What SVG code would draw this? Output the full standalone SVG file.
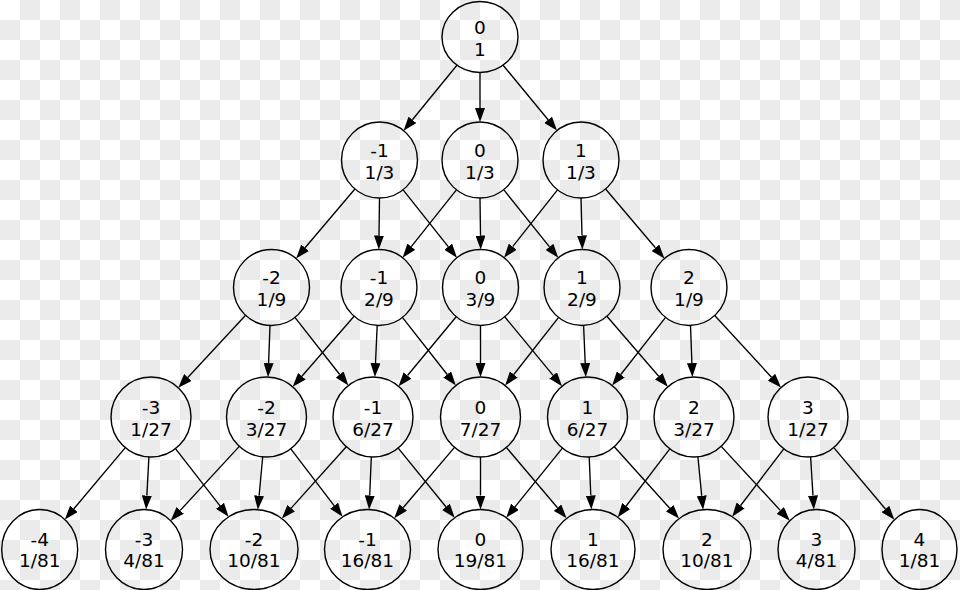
<svg xmlns="http://www.w3.org/2000/svg" width="960" height="590" viewBox="0 0 960 590">
<defs>
<pattern id="checker" patternUnits="userSpaceOnUse" width="40" height="40">
<rect width="40" height="40" fill="#ffffff"/>
<rect x="20" y="0" width="20" height="20" fill="#ebebeb"/>
<rect x="0" y="20" width="20" height="20" fill="#ebebeb"/>
</pattern>
<marker id="arr" markerUnits="userSpaceOnUse" markerWidth="14" markerHeight="10" viewBox="0 0 14 10" refX="0" refY="5" orient="auto">
<path d="M0,0 L14,5 L0,10 z" fill="#000"/>
</marker>
</defs>
<style>
.node ellipse{fill:none;stroke:#000;stroke-width:1.4}
.node text{font-family:"DejaVu Sans","Liberation Sans",sans-serif;font-size:18.5px;text-anchor:middle;fill:#000}
#edges line{stroke:#000;stroke-width:1.35;marker-end:url(#arr)}
</style>
<rect width="960" height="590" fill="url(#checker)"/>
<g id="edges">
<line x1="456.9" y1="65.2" x2="412.4" y2="119.8"/>
<line x1="480" y1="72.5" x2="480" y2="108"/>
<line x1="503.1" y1="65.2" x2="548.1" y2="119.8"/>

<line x1="354.9" y1="189.0" x2="305.1" y2="247.8"/>
<line x1="379.5" y1="198" x2="379" y2="235.5"/>
<line x1="403.1" y1="189.8" x2="448.2" y2="246.7"/>
<line x1="456.4" y1="189.8" x2="411.3" y2="246.7"/>
<line x1="480" y1="198" x2="480.5" y2="235.5"/>
<line x1="503.7" y1="189.7" x2="549.5" y2="246.9"/>
<line x1="557.5" y1="189.8" x2="512.7" y2="246.7"/>
<line x1="581" y1="198" x2="582" y2="235.5"/>
<line x1="605.6" y1="189.0" x2="655.4" y2="247.8"/>

<line x1="245.6" y1="315.3" x2="187.8" y2="377.5"/>
<line x1="270.0" y1="325.5" x2="268.6" y2="363.1"/>
<line x1="294.9" y1="317.4" x2="339.7" y2="374.5"/>
<line x1="354.1" y1="316.2" x2="301.9" y2="376.2"/>
<line x1="377.2" y1="325.5" x2="375.5" y2="363.1"/>
<line x1="402.4" y1="317.4" x2="447.2" y2="374.5"/>
<line x1="456.2" y1="316.7" x2="407.5" y2="375.5"/>
<line x1="480.5" y1="325.5" x2="480.5" y2="363"/>
<line x1="504.7" y1="316.8" x2="553.1" y2="375.4"/>
<line x1="558.6" y1="317.4" x2="513.8" y2="374.5"/>
<line x1="583.6" y1="325.5" x2="585.2" y2="363.1"/>
<line x1="606.9" y1="316.2" x2="658.7" y2="376.2"/>
<line x1="665.6" y1="317.4" x2="620.8" y2="374.5"/>
<line x1="690.5" y1="325.5" x2="691.9" y2="363.1"/>
<line x1="714.7" y1="315.5" x2="771.5" y2="377.2"/>

<line x1="125.3" y1="447.6" x2="73.9" y2="508.8"/>
<line x1="148.9" y1="456.9" x2="146.85" y2="495.6"/>
<line x1="175.5" y1="448.6" x2="220.0" y2="505.8"/>
<line x1="239.3" y1="446.4" x2="180.2" y2="510.4"/>
<line x1="262.7" y1="456.8" x2="259.1" y2="495.7"/>
<line x1="290.8" y1="448.8" x2="334.1" y2="505.7"/>
<line x1="346.3" y1="446.8" x2="291.2" y2="508.1"/>
<line x1="371.3" y1="457.0" x2="369.7" y2="495.5"/>
<line x1="398.2" y1="448.1" x2="445.9" y2="506.8"/>
<line x1="454.5" y1="447.4" x2="403.3" y2="507.5"/>
<line x1="480.5" y1="457" x2="480.5" y2="495.5"/>
<line x1="506.4" y1="447.5" x2="557.5" y2="507.7"/>
<line x1="562.4" y1="448.1" x2="515.0" y2="506.8"/>
<line x1="589.2" y1="457.0" x2="590.8" y2="495.5"/>
<line x1="614.3" y1="446.7" x2="669.7" y2="508.2"/>
<line x1="669.8" y1="448.8" x2="626.2" y2="506.0"/>
<line x1="697.9" y1="456.8" x2="701.7" y2="495.7"/>
<line x1="721.2" y1="446.4" x2="780.3" y2="510.4"/>
<line x1="783.8" y1="448.8" x2="740.6" y2="505.5"/>
<line x1="810.6" y1="456.9" x2="813.0" y2="495.6"/>
<line x1="833.8" y1="447.6" x2="885.4" y2="509.0"/>
</g>

<g id="n0_0" class="node"><ellipse cx="480" cy="37" rx="38" ry="35.5"/><text><tspan x="480" y="33.5">0</tspan><tspan x="480" y="55.5">1</tspan></text></g>

<g id="n1_m1" class="node"><ellipse cx="379.5" cy="160" rx="38" ry="38"/><text><tspan x="379.5" y="156.5">-1</tspan><tspan x="379.5" y="178.5">1/3</tspan></text></g>
<g id="n1_0" class="node"><ellipse cx="480" cy="160" rx="38" ry="38"/><text><tspan x="480" y="156.5">0</tspan><tspan x="480" y="178.5">1/3</tspan></text></g>
<g id="n1_1" class="node"><ellipse cx="581" cy="160" rx="38" ry="38"/><text><tspan x="581" y="156.5">1</tspan><tspan x="581" y="178.5">1/3</tspan></text></g>

<g id="n2_m2" class="node"><ellipse cx="271.5" cy="287.5" rx="38" ry="38"/><text><tspan x="271.5" y="284">-2</tspan><tspan x="271.5" y="306">1/9</tspan></text></g>
<g id="n2_m1" class="node"><ellipse cx="379" cy="287.5" rx="38" ry="38"/><text><tspan x="379" y="284">-1</tspan><tspan x="379" y="306">2/9</tspan></text></g>
<g id="n2_0" class="node"><ellipse cx="480.5" cy="287.5" rx="38" ry="38"/><text><tspan x="480.5" y="284">0</tspan><tspan x="480.5" y="306">3/9</tspan></text></g>
<g id="n2_1" class="node"><ellipse cx="582" cy="287.5" rx="38" ry="38"/><text><tspan x="582" y="284">1</tspan><tspan x="582" y="306">2/9</tspan></text></g>
<g id="n2_2" class="node"><ellipse cx="689" cy="287.5" rx="38" ry="38"/><text><tspan x="689" y="284">2</tspan><tspan x="689" y="306">1/9</tspan></text></g>

<g id="n3_m3" class="node"><ellipse cx="151" cy="417" rx="40" ry="40"/><text><tspan x="151" y="413.5">-3</tspan><tspan x="151" y="435.5">1/27</tspan></text></g>
<g id="n3_m2" class="node"><ellipse cx="266.5" cy="417" rx="40" ry="40"/><text><tspan x="266.5" y="413.5">-2</tspan><tspan x="266.5" y="435.5">3/27</tspan></text></g>
<g id="n3_m1" class="node"><ellipse cx="373" cy="417" rx="40" ry="40"/><text><tspan x="373" y="413.5">-1</tspan><tspan x="373" y="435.5">6/27</tspan></text></g>
<g id="n3_0" class="node"><ellipse cx="480.5" cy="417" rx="40" ry="40"/><text><tspan x="480.5" y="413.5">0</tspan><tspan x="480.5" y="435.5">7/27</tspan></text></g>
<g id="n3_1" class="node"><ellipse cx="587.5" cy="417" rx="40" ry="40"/><text><tspan x="587.5" y="413.5">1</tspan><tspan x="587.5" y="435.5">6/27</tspan></text></g>
<g id="n3_2" class="node"><ellipse cx="694" cy="417" rx="40" ry="40"/><text><tspan x="694" y="413.5">2</tspan><tspan x="694" y="435.5">3/27</tspan></text></g>
<g id="n3_3" class="node"><ellipse cx="808" cy="417" rx="40" ry="40"/><text><tspan x="808" y="413.5">3</tspan><tspan x="808" y="435.5">1/27</tspan></text></g>

<g id="n4_m4" class="node"><ellipse cx="39.7" cy="549.5" rx="38" ry="40"/><text><tspan x="39.7" y="545.8">-4</tspan><tspan x="39.7" y="567.2">1/81</tspan></text></g>
<g id="n4_m3" class="node"><ellipse cx="144" cy="549.5" rx="38.5" ry="40"/><text><tspan x="144" y="545.8">-3</tspan><tspan x="144" y="567.2">4/81</tspan></text></g>
<g id="n4_m2" class="node"><ellipse cx="254" cy="549.5" rx="44" ry="40"/><text><tspan x="254" y="545.8">-2</tspan><tspan x="254" y="567.2">10/81</tspan></text></g>
<g id="n4_m1" class="node"><ellipse cx="367.5" cy="549.5" rx="43" ry="40"/><text><tspan x="367.5" y="545.8">-1</tspan><tspan x="367.5" y="567.2">16/81</tspan></text></g>
<g id="n4_0" class="node"><ellipse cx="480.5" cy="549.5" rx="42.5" ry="40"/><text><tspan x="480.5" y="545.8">0</tspan><tspan x="480.5" y="567.2">19/81</tspan></text></g>
<g id="n4_1" class="node"><ellipse cx="593" cy="549.5" rx="42" ry="40"/><text><tspan x="593" y="545.8">1</tspan><tspan x="593" y="567.2">16/81</tspan></text></g>
<g id="n4_2" class="node"><ellipse cx="707" cy="549.5" rx="44" ry="40"/><text><tspan x="707" y="545.8">2</tspan><tspan x="707" y="567.2">10/81</tspan></text></g>
<g id="n4_3" class="node"><ellipse cx="816.5" cy="549.5" rx="38.5" ry="40"/><text><tspan x="816.5" y="545.8">3</tspan><tspan x="816.5" y="567.2">4/81</tspan></text></g>
<g id="n4_4" class="node"><ellipse cx="919.5" cy="549.5" rx="37.5" ry="40"/><text><tspan x="919.5" y="545.8">4</tspan><tspan x="919.5" y="567.2">1/81</tspan></text></g>
</svg>
